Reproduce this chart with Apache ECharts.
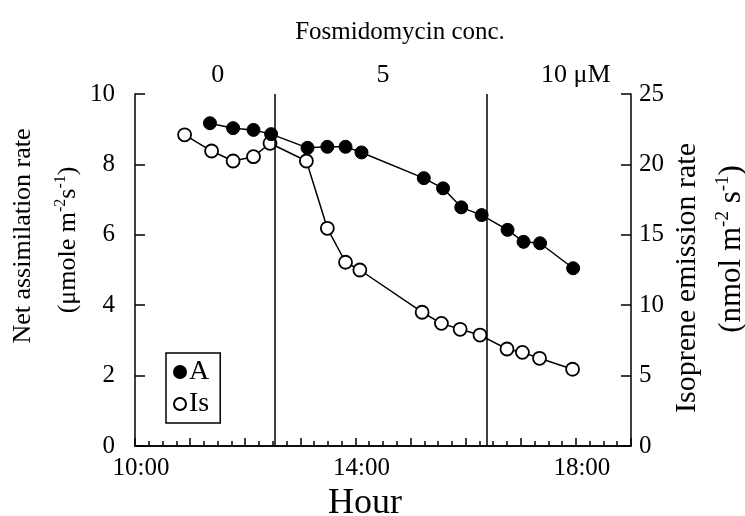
<!DOCTYPE html>
<html>
<head>
<meta charset="utf-8">
<script src="https://cdn.jsdelivr.net/npm/echarts@6/dist/echarts.min.js"></script>
<style>html,body{margin:0;padding:0;background:#fff;}#c{width:745px;height:516px;}</style>
</head>
<body>
<div id="c"></div>
<script>
// Net assimilation rate (A), left axis
const aHours  = [11.36, 11.78, 12.15, 12.47, 13.13, 13.49, 13.82, 14.11, 15.24, 15.59, 15.92, 16.29, 16.76, 17.05, 17.35, 17.95];
const aValues = [9.17, 9.03, 8.98, 8.86, 8.47, 8.50, 8.50, 8.34, 7.61, 7.32, 6.78, 6.56, 6.14, 5.80, 5.76, 5.05];
// Isoprene emission rate (Is), right axis
const isHours  = [10.90, 11.39, 11.78, 12.15, 12.45, 13.11, 13.49, 13.82, 14.08, 15.21, 15.56, 15.90, 16.26, 16.75, 17.03, 17.34, 17.94];
const isValues = [22.1, 20.95, 20.24, 20.55, 21.5, 20.24, 15.46, 13.05, 12.5, 9.5, 8.71, 8.29, 7.88, 6.89, 6.65, 6.23, 5.45];
// Fosmidomycin concentration change times
const concBoundaries = [12.53, 16.39];
const concLabelPos = [11.5, 14.5, 18];
const concLabels = ['0', '5', '10 μM'];
const hourTicks = [10, 14, 18];
const hourLabels = ['10:00', '14:00', '18:00'];

const FONT = '"Liberation Serif", "Times New Roman", serif';
const chart = echarts.init(document.getElementById('c'), null, {renderer: 'canvas'});

const supRich = {
  n: {fontSize: 26, lineHeight: 30, fontFamily: FONT, color: '#000'},
  s: {fontSize: 16, lineHeight: 12, fontFamily: FONT, color: '#000', verticalAlign: 'top'}
};
const supRichR = {
  n: {fontSize: 31, lineHeight: 36, fontFamily: FONT, color: '#000'},
  s: {fontSize: 19, lineHeight: 14, fontFamily: FONT, color: '#000', verticalAlign: 'top'}
};
const center = {align: 'center', verticalAlign: 'middle', textAlign: 'center', textVerticalAlign: 'middle', fill: '#000', fontFamily: FONT};

chart.setOption({
  animation: false,
  backgroundColor: '#fff',
  grid: {left: 135, right: 114, top: 94, bottom: 70, show: false, containLabel: false, outerBoundsMode: 'none'},
  legend: {
    orient: 'vertical',
    left: 166, top: 353,
    borderColor: '#000', borderWidth: 1.5,
    padding: [5, 11, 5, 7],
    itemGap: 4,
    itemWidth: 12, itemHeight: 12,
    textStyle: {fontFamily: FONT, fontSize: 28, color: '#000', padding: [0, 0, 0, -2]},
    data: [{name: 'A', icon: 'circle'}, {name: 'Is', icon: 'circle'}]
  },
  xAxis: [{
    type: 'value', min: 10, max: 19, interval: 1,
    name: 'Hour', nameLocation: 'middle', nameGap: 38,
    nameTextStyle: {fontFamily: FONT, fontSize: 36, color: '#000', padding: [0, 36, 0, 0]},
    axisLine: {show: true, lineStyle: {color: '#000', width: 1.5}},
    axisTick: {show: true, inside: true, length: 8, lineStyle: {color: '#000', width: 1.5}},
    minorTick: {show: true, splitNumber: 4, length: 5, lineStyle: {color: '#000', width: 1.5}},
    splitLine: {show: false},
    minorSplitLine: {show: false},
    axisLabel: {
      fontFamily: FONT, fontSize: 25, color: '#000', margin: 10, padding: [0, 0, 0, 12],
      formatter: v => { const i = hourTicks.indexOf(v); return i >= 0 ? hourLabels[i] : ''; }
    }
  }, {
    type: 'value', min: 10, max: 19, interval: 0.5, position: 'top',
    axisLine: {show: true, lineStyle: {color: '#000', width: 1.5}},
    axisTick: {show: false},
    splitLine: {show: false},
    axisLabel: {
      fontFamily: FONT, fontSize: 26, color: '#000', margin: 6,
      formatter: v => { const i = concLabelPos.indexOf(v); return i >= 0 ? concLabels[i] : ''; }
    }
  }],
  yAxis: [{
    type: 'value', min: 0, max: 10, interval: 2,
    axisLine: {show: true, lineStyle: {color: '#000', width: 1.5}},
    axisTick: {show: true, inside: true, length: 10, lineStyle: {color: '#000', width: 1.5}},
    splitLine: {show: false},
    axisLabel: {fontFamily: FONT, fontSize: 25, color: '#000', margin: 20}
  }, {
    type: 'value', min: 0, max: 25, interval: 5, position: 'right',
    axisLine: {show: true, lineStyle: {color: '#000', width: 1.5}},
    axisTick: {show: true, inside: true, length: 10, lineStyle: {color: '#000', width: 1.5}},
    splitLine: {show: false},
    axisLabel: {fontFamily: FONT, fontSize: 25, color: '#000', margin: 8}
  }],
  series: [{
    name: 'Is', type: 'line', xAxisIndex: 0, yAxisIndex: 1,
    data: isHours.map((h, i) => [h, isValues[i]]),
    symbol: 'circle', symbolSize: 13,
    itemStyle: {color: '#fff', borderColor: '#000', borderWidth: 1.8},
    lineStyle: {color: '#000', width: 1.5},
    z: 3
  }, {
    name: 'A', type: 'line', xAxisIndex: 0, yAxisIndex: 0,
    data: aHours.map((h, i) => [h, aValues[i]]),
    symbol: 'circle', symbolSize: 13,
    itemStyle: {color: '#000', borderColor: '#000', borderWidth: 1},
    lineStyle: {color: '#000', width: 1.5},
    z: 4,
    markLine: {
      silent: true, symbol: ['none', 'none'],
      label: {show: false},
      lineStyle: {color: '#000', width: 1.5, type: 'solid'},
      data: concBoundaries.map(v => ({xAxis: v}))
    }
  }],
  graphic: [
    {type: 'text', x: 400, y: 32, style: Object.assign({text: 'Fosmidomycin conc.', fontSize: 25}, center)},
    {type: 'text', x: 23, y: 236, rotation: Math.PI / 2, style: Object.assign({text: 'Net assimilation rate', fontSize: 26}, center)},
    {type: 'text', x: 68, y: 240, rotation: Math.PI / 2, style: Object.assign({text: '{n|(μmole m}{s|-2}{n|s}{s|-1}{n|)}', rich: supRich, fontSize: 26}, center)},
    {type: 'text', x: 687, y: 278, rotation: Math.PI / 2, style: Object.assign({text: 'Isoprene emission rate', fontSize: 30}, center)},
    {type: 'text', x: 732, y: 249, rotation: Math.PI / 2, style: Object.assign({text: '{n|(nmol m}{s|-2}{n| s}{s|-1}{n|)}', rich: supRichR, fontSize: 31}, center)}
  ]
});
</script>
</body>
</html>
